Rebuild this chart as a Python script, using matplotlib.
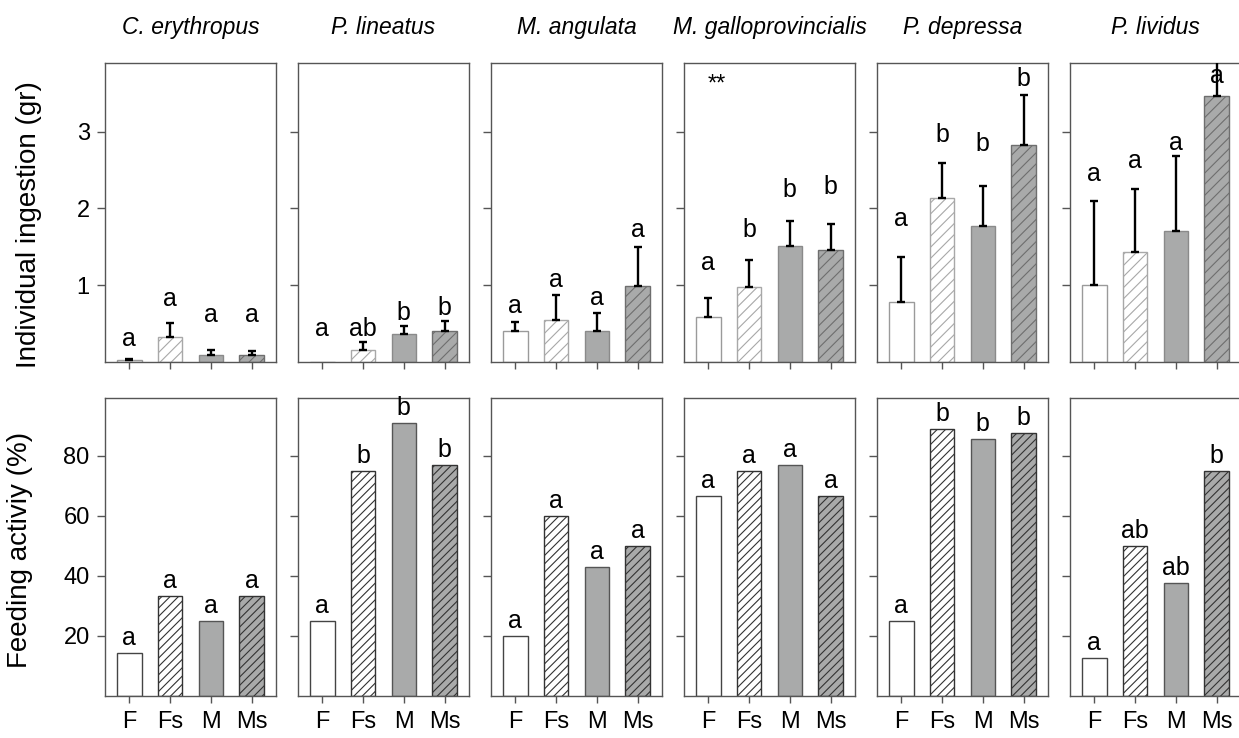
import numpy as np
import matplotlib.pyplot as plt

plt.rcParams['font.family'] = ['Liberation Sans', 'DejaVu Sans']
plt.rcParams['hatch.linewidth'] = 0.8

# ------------------------------------------------------------------
# Data
# ------------------------------------------------------------------
species = ['C. erythropus', 'P. lineatus', 'M. angulata',
           'M. galloprovincialis', 'P. depressa', 'P. lividus']
treatments = ['F', 'Fs', 'M', 'Ms']

# Individual ingestion (gr), mean and upper error
ingestion = [
    [0.02, 0.32, 0.09, 0.09],
    [0.00, 0.15, 0.36, 0.40],
    [0.40, 0.55, 0.40, 0.99],
    [0.58, 0.97, 1.51, 1.46],
    [0.78, 2.13, 1.77, 2.83],
    [1.00, 1.43, 1.71, 3.46],
]
ingestion_err = [
    [0.02, 0.19, 0.06, 0.05],
    [0.00, 0.11, 0.10, 0.13],
    [0.12, 0.32, 0.23, 0.51],
    [0.25, 0.35, 0.32, 0.34],
    [0.58, 0.46, 0.52, 0.65],
    [1.09, 0.82, 0.97, 0.75],
]
ingestion_letters = [
    ['a', 'a', 'a', 'a'],
    ['a', 'ab', 'b', 'b'],
    ['a', 'a', 'a', 'a'],
    ['a', 'b', 'b', 'b'],
    ['a', 'b', 'b', 'b'],
    ['a', 'a', 'a', 'a'],
]
# baseline height of the letters (gr)
ingestion_letter_y = [
    [0.20, 0.72, 0.52, 0.52],
    [0.33, 0.33, 0.55, 0.61],
    [0.64, 0.98, 0.74, 1.62],
    [1.20, 1.62, 2.15, 2.19],
    [1.77, 2.87, 2.75, 3.59],
    [2.36, 2.53, 2.76, 3.63],
]

# Feeding activity (%)
feeding = [
    [14.3, 33.3, 25.0, 33.3],
    [25.0, 75.0, 91.0, 77.0],
    [20.0, 60.0, 42.9, 50.0],
    [66.7, 75.0, 77.0, 66.7],
    [25.0, 89.0, 85.7, 87.5],
    [12.5, 50.0, 37.5, 75.0],
]
feeding_letters = [
    ['a', 'a', 'a', 'a'],
    ['a', 'b', 'b', 'b'],
    ['a', 'a', 'a', 'a'],
    ['a', 'a', 'a', 'a'],
    ['a', 'b', 'b', 'b'],
    ['a', 'ab', 'ab', 'b'],
]

# ------------------------------------------------------------------
# Bar styles (face, edge/hatch colour, hatch) per row
# ------------------------------------------------------------------
GRAY = '#a9aaaa'
top_style = [('white', '#9a9a9a', None), ('white', '#a8a8a8', '///'),
             (GRAY, '#8a8a8a', None), (GRAY, '#6e6e6e', '///')]
bot_style = [('white', '#444444', None), ('white', '#333333', '////'),
             (GRAY, '#555555', None), (GRAY, '#333333', '////')]

W, H = 1239, 738
fig = plt.figure(figsize=(W / 100, H / 100), dpi=100)

LEFT, PITCH, AW = 105, 193, 171
TOP_Y0, TOP_Y1 = 63, 361.7
BOT_Y0, BOT_Y1 = 398.3, 695.7

x = np.arange(len(treatments))


def style_axes(ax):
    for sp in ax.spines.values():
        sp.set_color('#555555')
        sp.set_linewidth(1.0)
    ax.tick_params(axis='y', direction='out', length=6, width=1,
                   color='#555555', labelsize=17, pad=5)
    ax.tick_params(axis='x', direction='out', length=5, width=1,
                   color='#555555', labelsize=17, pad=6)
    ax.set_xlim(-0.6, 3.6)
    ax.set_xticks(x)


for i, sp_name in enumerate(species):
    left = (LEFT + i * PITCH) / W
    # ---------------- top row: ingestion ----------------
    ax = fig.add_axes([left, 1 - TOP_Y1 / H, AW / W, (TOP_Y1 - TOP_Y0) / H])
    style_axes(ax)
    for j in range(4):
        fc, ec, hatch = top_style[j]
        ax.bar(x[j], ingestion[i][j], width=0.6, color=fc, edgecolor=ec,
               hatch=hatch, linewidth=1.0, zorder=2)
        if ingestion_err[i][j] > 0:
            ax.errorbar(x[j], ingestion[i][j], yerr=[[0], [ingestion_err[i][j]]],
                        fmt='none', ecolor='black', elinewidth=1.7,
                        capsize=2.6, capthick=1.7, zorder=3)
        ax.text(x[j], ingestion_letter_y[i][j], ingestion_letters[i][j],
                ha='center', va='baseline', fontsize=18)
    ax.set_ylim(0, (TOP_Y1 - TOP_Y0) / 76.7)
    ax.set_yticks([1, 2, 3])
    ax.set_xticklabels([])
    ax.set_title(sp_name, style='italic', fontsize=16.5, pad=21)
    if sp_name == 'M. galloprovincialis':
        ax.text(0.21, 3.61, '**', ha='center', va='center', fontsize=17)
    if i == 0:
        ax.set_ylabel('Individual ingestion (gr)', fontsize=20)
        ax.yaxis.set_label_coords(-0.37, 0.46)
    else:
        ax.set_yticklabels([])

    # ---------------- bottom row: feeding activity ----------------
    ax = fig.add_axes([left, 1 - BOT_Y1 / H, AW / W, (BOT_Y1 - BOT_Y0) / H])
    style_axes(ax)
    for j in range(4):
        fc, ec, hatch = bot_style[j]
        ax.bar(x[j], feeding[i][j], width=0.6, color=fc, edgecolor=ec,
               hatch=hatch, linewidth=1.0, zorder=2)
        ax.annotate(feeding_letters[i][j], (x[j], feeding[i][j]),
                    xytext=(0, 2), textcoords='offset points',
                    ha='center', va='bottom', fontsize=18)
    ax.set_ylim(0, (BOT_Y1 - BOT_Y0) / 3.0)
    ax.set_yticks([20, 40, 60, 80])
    ax.set_xticklabels(treatments)
    if i == 0:
        ax.set_ylabel('Feeding activiy (%)', fontsize=20)
        ax.yaxis.set_label_coords(-0.42, 0.49)
    else:
        ax.set_yticklabels([])

fig.savefig('out.png', dpi=100, facecolor='white')
